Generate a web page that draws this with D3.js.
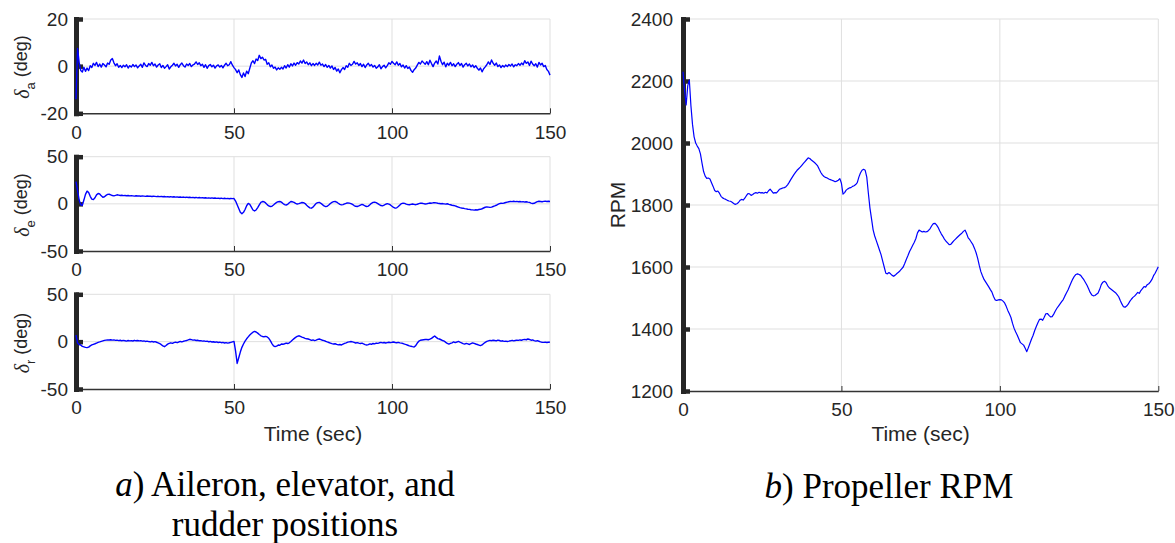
<!DOCTYPE html>
<html>
<head>
<meta charset="utf-8">
<script src="https://cdn.jsdelivr.net/npm/d3@7"></script>
<style>
  html, body { margin: 0; padding: 0; background: #ffffff; }
  svg { display: block; }
  .tick text { font-family: "Liberation Sans", Arial, Helvetica, sans-serif; }
</style>
</head>
<body>
<svg id="fig" width="1175" height="543"></svg>
<script>
// Sampling interval of every logged channel (seconds)
const timeStep = 0.5;

// Aileron deflection, deg
const aileronDeg = [
  -14, 7.5, 1.5, -1.8, -2.5, -0.5, -2.2, -0.8, -1.9, 0.2, -0.6,
  1.2, 0.3, 1.6, -0.2, 0.9, -0.4, 1.1, 0.5, -0.3, 1.3,
  0.8, 2.6, 3.2, 1.4, 0.2, 1.0, -0.5, 0.3, -0.6, 0.4,
  -0.3, 0.6, -0.8, 0.2, -0.4, 0.7, -0.2, 0.5, -0.7, 0.1,
  0.8, -0.5, 1.4, 0.3, -0.2, 1.1, 0.4, 1.6, 0.2, 0.9,
  -0.4, 0.5, 1.0, -0.6, 0.3, -0.9, -0.2, 0.6, -1.2, -0.3,
  0.4, 1.2, 0.1, 0.8, -0.5, 0.6, 1.3, 0.2, -0.4, 0.9,
  0.3, 1.1, -0.2, 0.5, 0.9, 1.8, 0.7, 1.4, 0.2, 0.8,
  -0.5, 0.6, -0.9, 0.2, 0.7, -0.3, 0.4, -0.8, 0.1, 0.5,
  -0.4, 0.3, -0.7, 0.4, 1.2, 0.2, 0.6, 1.9, 0.4, -0.6,
  -1.5, -2.8, -1.6, -3.6, -4.8, -2.9, -4.4, -2.1, -3.2, -0.9,
  1.4, 2.3, 1.1, 3.0, 2.4, 4.6, 3.2, 3.8, 2.6, 2.9,
  0.8, 1.4, -0.3, 0.5, -0.9, -0.4, -1.6, -0.7, -1.3, -0.5,
  -1.2, 0.2, -0.8, 0.6, -0.4, 1.0, 0.1, 1.3, 0.4, 1.5,
  0.9, 2.2, 1.3, 2.6, 1.1, 1.8, 0.6, 1.4, 0.2, 1.1,
  0.3, 1.2, 0.5, 1.7, 0.4, 0.9, -0.2, 0.7, -0.5, 0.3,
  -0.8, 0.1, -1.4, -0.6, -2.1, -1.2, -2.8, -1.5, -0.6, -1.4,
  0.2, -0.5, 1.2, 0.3, 0.8, 2.0, 0.9, 1.4, 0.3, 1.1,
  -0.2, 0.8, -0.6, 0.5, 1.2, 0.1, 0.7, -0.4, 0.3, -0.9,
  -0.3, 0.6, -1.1, -0.2, 0.4, -0.7, 0.2, 1.4, 0.8, 2.0,
  1.2, 0.6, 1.8, 0.4, 1.1, -0.3, 0.5, -0.8, 0.2, -1.0,
  -0.4, -1.8, -2.6, -1.5, -0.8, 0.4, 1.6, 0.9, 2.2, 1.5,
  0.8, 1.9, 0.6, 2.5, 1.1, -0.2, 1.3, 2.2, 0.9, 4.3,
  2.1, 0.6, 1.7, -0.3, 1.2, 0.4, 1.6, 0.2, 1.0, -0.2,
  0.8, 1.5, 0.3, 1.1, -0.4, 0.6, 1.2, 0.1, 0.9, -0.3,
  0.5, -0.6, 0.2, -0.9, -1.7, -0.8, -2.4, -1.1, -0.3, 0.6,
  1.8, 0.7, 2.6, 1.2, 0.4, 1.3, -0.2, 0.5, -0.6, 0.3,
  -0.4, 0.5, -0.2, 0.7, 0.1, 0.9, -0.3, 0.6, 0.2, 1.1,
  0.4, 1.3, 0.6, 2.3, 1.2, 1.8, 0.3, 2.1, 0.9, 0.2,
  1.0, -0.4, 1.6, 0.5, 1.2, -0.2, 0.3, -1.4, -2.2, -3.8
];

// Elevator deflection, deg
const elevatorDeg = [
  23.5, 14, 4, -1, -1.5, 4, 10, 13.5, 12, 8, 5,
  4.5, 6.5, 9.5, 11, 10.5, 8.5, 7, 7.5, 9, 10,
  10.2, 9.5, 8.8, 8.5, 9, 9.6, 9.3, 8.9, 9.1, 8.7,
  8.9, 8.6, 8.8, 8.4, 8.7, 8.5, 8.2, 8.6, 8.3, 8.5,
  8.1, 8.4, 8.2, 7.9, 8.3, 8.0, 8.2, 7.8, 8.1, 7.9,
  7.7, 8.0, 7.6, 7.9, 7.5, 7.8, 7.4, 7.7, 7.3, 7.6,
  7.2, 7.5, 7.1, 7.4, 7.0, 7.3, 6.9, 7.2, 6.8, 7.1,
  6.7, 7.0, 6.6, 6.9, 6.5, 6.8, 6.4, 6.7, 6.3, 6.6,
  6.2, 6.5, 6.1, 6.4, 6.0, 6.3, 5.9, 6.2, 5.8, 6.1,
  5.7, 6.0, 5.6, 5.9, 5.5, 5.8, 5.4, 5.7, 5.5, 5.6,
  3, -1, -5, -9, -10.5, -9, -6, -2, 0.5, -0.5,
  -3.5, -6.5, -7.5, -6.5, -4, -1, 1.5, 2.5, 2.3, 1,
  -0.8, -2.2, -2.8, -2.5, -1.2, 0.3, 1.5, 2.3, 2.5, 1.8,
  0.4, -0.8, -1.2, -0.5, 1.2, 2.5, 2.2, 1.5, 0.5, -0.2,
  0.2, 0.8, 1.4, 1.2, 0.3, -1.5, -3, -4.2, -4.6, -3.5,
  -1.5, 0.5, 1.3, 1.5, 0.6, -0.8, -2.2, -2.9, -2.6, -1.2,
  0.4, 1.6, 2.4, 2.5, 1.8, 0.6, -0.5, -1.1, -0.8, 0,
  0.6, 1, 0.8, 0.3, -0.6, -1.8, -2.6, -2.8, -2.2, -1.3,
  -0.6, -1.2, -2.3, -2.8, -2.4, -1, 0.6, 1.5, 1.8, 1.3,
  0.3, -0.8, -1.8, -2.1, -1.4, -0.4, 0.2, -0.3, -1.2, -2.5,
  -3.8, -4.6, -4.2, -2.8, -1.2, 0.3, 0.8, 0.5, -0.3, -0.8,
  -1.0, -0.6, -0.2, -0.5, -0.9, -0.4, 0.2, 0.7, 0.6, 0.2,
  -0.2, 0.1, 0.5, 0.9, 0.7, 1.1, 1.3, 1.0, 0.6, 0.4,
  0.1, 0.3, 0.0, -0.3, 0.1, -0.5, -1.0, -1.5, -1.8, -2.1,
  -2.8, -3.4, -4.0, -4.4, -4.6, -5.0, -5.3, -5.7, -5.9, -6.2,
  -6.4, -6.6, -6.3, -6.5, -6.0, -5.8, -5.2, -4.4, -3.6, -3.2,
  -3.5, -3.8, -3.4, -2.8, -2.2, -1.5, -0.6, 0.2, 0.6, 0.5,
  0.9, 1.4, 1.8, 2.2, 2.6, 2.4, 2.7, 2.3, 2.6, 2.2,
  2.5, 2.1, 2.4, 1.9, 2.2, 1.8, 1.5, 0.8, 0.4, 0.6,
  1.5, 2.4, 2.8, 2.5, 2.2, 2.6, 2.9, 2.5, 2.7, 2.5
];

// Rudder deflection, deg
const rudderDeg = [
  7, -1.5, -3, -3.5, -5, -5.5, -6, -6.3, -5.8, -4.5, -3.5,
  -2.8, -2.2, -1.5, -0.8, -0.3, 0.3, 0.8, 1.3, 1.6, 1.9,
  1.7, 2.0, 1.6, 1.8, 1.3, 1.6, 1.1, 1.5, 0.9, 1.3,
  1.0, 0.6, 1.2, 0.8, 1.1, 0.7, 1.4, 0.9, 1.2, 0.8,
  1.1, 0.5, 0.8, 0.2, 0.6, 0.1, -0.3, 0.2, -0.4, 0.0,
  -0.6, -1.2, -2.0, -3.2, -4.5, -5.3, -4.1, -2.6, -1.8, -1.2,
  -1.8, -1.0, -0.5, -1.1, -0.4, 0.2, -0.3, 0.4, 0.8, 1.2,
  1.8, 2.5, 2.1, 1.6, 1.8, 1.2, 1.5, 0.9, 1.1, 0.6,
  0.8, 0.3, 0.5, -0.1, 0.2, -0.4, -0.1, -0.6, -0.3, -0.9,
  -0.5, -1.1, -0.8, -1.4, -1.0, -1.6, -1.2, -0.7, -0.2, 0.3,
  -10, -23, -17, -11, -6, -2.5, 0.5, 3, 5, 7,
  8.5, 10, 10.8, 10.2, 9, 7.5, 6.2, 5.5, 5.2, 5.6,
  5, 3.5, 1, -2, -4.5, -5.3, -4.8, -3.5, -3.8, -2.5,
  -2.8, -2.2, -1.5, -2.0, -1.2, 0.2, 1.8, 3.2, 4.5, 5.5,
  6.2, 5.6, 4.8, 4.2, 3.5, 3.0, 2.8, 2.2, 1.4, 1.8,
  1.1, 1.6, 2.4, 2.8, 2.2, 1.5, 1.0, 0.4, -0.3, -0.9,
  -1.5, -2.1, -2.5, -2.2, -2.9, -3.4, -3.0, -3.5, -2.6, -1.8,
  -1.2, -0.5, -0.2, 0.1, -0.3, -0.8, -1.4, -1.0, -1.6, -2.0,
  -1.6, -2.4, -3.1, -3.5, -3.2, -2.4, -2.8, -1.9, -2.3, -1.5,
  -1.8, -1.2, -0.8, -1.3, -0.9, -1.4, -1.0, -0.6, -1.1, -0.7,
  -0.4, -0.9, -1.2, -0.8, -1.3, -1.6, -2.0, -2.6, -3.1, -3.8,
  -4.5, -4.9, -5.3, -5.6, -4.2, -1.5, 0.5, 1.5, 1.8, 2.0,
  2.2, 2.3, 2.0, 2.6, 3.5, 4.8, 6.0, 4.5, 3.2, 2.8,
  2.0, 1.2, 0.6, -0.8, -1.9, -2.6, -1.8, -1.2, -0.3, -1.0,
  -0.4, 0.3, -0.5, -1.2, -2.0, -2.6, -1.9, -2.4, -3.0, -2.2,
  -1.4, -1.8, -2.5, -3.0, -3.6, -4.2, -3.5, -2.0, -0.8, 0.2,
  0.8, 1.3, 1.0, 1.5, 1.2, 0.8, 1.6, 1.2, 0.5, 0.9,
  0.3, 0.6, 0.2, 0.5, 0.9, 1.4, 0.8, 1.2, 1.6, 1.3,
  1.8, 1.5, 2.1, 2.4, 2.0, 2.8, 2.3, 1.5, 1.8, 1.1,
  0.6, 1.0, 0.4, -0.2, -0.6, -0.8, -0.5, -0.9, -0.6, -0.5
];

// Propeller speed, RPM
const propRpm = [
  2230, 2170, 2123, 2185, 2203, 2120, 2060, 2020, 2000, 1990, 1982,
  1965, 1935, 1908, 1893, 1886, 1887, 1884, 1872, 1860, 1847,
  1843, 1845, 1838, 1828, 1823, 1820, 1818, 1815, 1813, 1812,
  1809, 1805, 1802, 1804, 1808, 1815, 1818, 1816, 1822, 1830,
  1837, 1836, 1831, 1834, 1838, 1840, 1838, 1841, 1839, 1840,
  1838, 1841, 1839, 1846, 1851, 1845, 1838, 1840, 1839, 1845,
  1851, 1853, 1855, 1856, 1859, 1865, 1873, 1882, 1890, 1898,
  1905, 1912, 1917, 1922, 1928, 1934, 1940, 1946, 1952, 1950,
  1945, 1941, 1937, 1932, 1926, 1915, 1905, 1897, 1892, 1889,
  1887, 1884, 1882, 1880, 1878, 1875, 1877, 1880, 1885, 1870,
  1835, 1840, 1848, 1852, 1855, 1856, 1860, 1862, 1866, 1872,
  1890, 1903, 1912, 1915, 1912, 1890, 1838, 1790, 1755, 1720,
  1700, 1685, 1670, 1655, 1640, 1620, 1600, 1580, 1578, 1582,
  1578, 1573, 1570, 1574, 1579, 1583, 1588, 1594, 1600, 1612,
  1625, 1637, 1650, 1660, 1670, 1680, 1692, 1710, 1719, 1716,
  1713, 1715, 1713, 1714, 1718, 1724, 1733, 1740, 1741, 1736,
  1728, 1717, 1707, 1699, 1690, 1683, 1678, 1672, 1673, 1679,
  1685, 1690, 1695, 1700, 1705, 1709, 1715, 1719, 1708, 1694,
  1688, 1680, 1672, 1660, 1646, 1628, 1605, 1585, 1572, 1560,
  1552, 1544, 1536, 1527, 1519, 1505, 1494, 1492, 1494, 1495,
  1494, 1490, 1484, 1473, 1460, 1449, 1437, 1418, 1402, 1390,
  1380, 1368, 1356, 1352, 1348, 1338, 1327, 1340, 1354, 1368,
  1380, 1395, 1408, 1420, 1431, 1432, 1428, 1438, 1449, 1450,
  1444, 1439, 1440, 1448, 1458, 1467, 1474, 1481, 1488, 1495,
  1506, 1516, 1526, 1538, 1550, 1561, 1570, 1576, 1578, 1576,
  1573, 1566, 1559, 1550, 1541, 1530, 1518, 1510, 1507, 1508,
  1512, 1516, 1528, 1543, 1551, 1554, 1550, 1540, 1533, 1529,
  1525, 1521, 1517, 1511, 1504, 1492, 1481, 1472, 1470, 1474,
  1480, 1489, 1496, 1502, 1506, 1512, 1518, 1515, 1524, 1530,
  1537, 1535, 1543, 1546, 1552, 1560, 1572, 1580, 1590, 1601
];

// Axis ticks
const timeTicks = [0, 50, 100, 150];
const aileronTicks = [-20, 0, 20];
const surfaceTicks = [-50, 0, 50];
const rpmTicks = [1200, 1400, 1600, 1800, 2000, 2200, 2400];

// Captions
const captionA = ["a", ") Aileron, elevator, and", "rudder positions"];
const captionB = ["b", ") Propeller RPM"];

const TXT = "#262626";
const GRID = "#dfdfdf";
const SANS = '"Liberation Sans", Arial, Helvetica, sans-serif';
const SERIF = '"Liberation Serif", "Times New Roman", Times, serif';
const plain = d => String(d);   // plain integers, ASCII minus, no grouping

const svg = d3.select("#fig");
svg.append("rect").attr("width", 1175).attr("height", 543).attr("fill", "#fff");

function drawPanel(cfg) {
  const g = svg.append("g").attr("transform", `translate(${cfg.left},${cfg.top})`);
  const x = d3.scaleLinear().domain([0, 150]).range([0, cfg.width]);
  const y = d3.scaleLinear().domain([cfg.ticks[0], cfg.ticks[cfg.ticks.length - 1]]).range([cfg.height, 0]);

  // grid
  g.append("g").selectAll("line").data(timeTicks.filter(t => t > 0)).join("line")
    .attr("x1", d => x(d)).attr("x2", d => x(d))
    .attr("y1", 0).attr("y2", cfg.height)
    .attr("stroke", GRID).attr("stroke-width", 1);
  g.append("g").selectAll("line").data(cfg.ticks.slice(1)).join("line")
    .attr("x1", 0).attr("x2", cfg.width)
    .attr("y1", d => y(d)).attr("y2", d => y(d))
    .attr("stroke", GRID).attr("stroke-width", 1);

  // bottom axis
  const xa = g.append("g").attr("transform", `translate(0,${cfg.height})`)
    .call(d3.axisBottom(x).tickValues(timeTicks).tickFormat(plain)
      .tickSizeInner(-5).tickSizeOuter(0).tickPadding(12));
  xa.select(".domain").attr("stroke", "#333").attr("stroke-width", cfg.axisWidth);
  xa.selectAll(".tick line").attr("stroke", "#333").attr("stroke-width", 1);
  xa.selectAll(".tick text").attr("fill", TXT).style("font-size", cfg.tickFont + "px");

  // left axis: heavy bar with inward stubs
  const ya = g.append("g")
    .call(d3.axisLeft(y).tickValues(cfg.ticks).tickFormat(plain)
      .tickSizeInner(-7).tickSizeOuter(0).tickPadding(cfg.yPad));
  ya.select(".domain").attr("stroke", TXT).attr("stroke-width", 5).attr("stroke-linecap", "square");
  ya.selectAll(".tick line").attr("stroke", TXT).attr("stroke-width", 4.5);
  ya.selectAll(".tick text").attr("fill", TXT).style("font-size", cfg.tickFont + "px");

  // signal, drawn over the axes
  const line = d3.line()
    .x((d, i) => x(i * timeStep))
    .y(d => y(d));
  g.append("path").datum(cfg.values)
    .attr("d", line)
    .attr("fill", "none")
    .attr("stroke", "#0000ff")
    .attr("stroke-width", cfg.lineWidth)
    .attr("stroke-linejoin", "round");

  return { g, x, y };
}

function surfaceLabel(cx, cy, sub) {
  const t = svg.append("text")
    .attr("transform", `translate(${cx},${cy}) rotate(-90)`)
    .attr("text-anchor", "middle")
    .attr("fill", TXT)
    .style("font-family", SANS)
    .style("font-size", "18px");
  t.append("tspan").text("δ").style("font-family", SERIF).style("font-style", "italic").style("font-size", "20px");
  t.append("tspan").text(sub).attr("dy", "0.45em").style("font-size", "13px");
  t.append("tspan").text(" (deg)").attr("dy", "-0.45em");
}

const leftX = 76, leftW = 474, panelH = 94.3;

drawPanel({ left: leftX, top: 19, width: leftW, height: panelH, ticks: aileronTicks,
  values: aileronDeg, lineWidth: 1.4, axisWidth: 1.5, tickFont: 19, yPad: 8 });
drawPanel({ left: leftX, top: 156.7, width: leftW, height: panelH, ticks: surfaceTicks,
  values: elevatorDeg, lineWidth: 1.4, axisWidth: 1.5, tickFont: 19, yPad: 8 });
drawPanel({ left: leftX, top: 294.3, width: leftW, height: panelH + 0.4, ticks: surfaceTicks,
  values: rudderDeg, lineWidth: 1.4, axisWidth: 1.5, tickFont: 19, yPad: 8 });

drawPanel({ left: 683, top: 19, width: 475.3, height: 372, ticks: rpmTicks,
  values: propRpm, lineWidth: 1.2, axisWidth: 1.3, tickFont: 19, yPad: 10 });

surfaceLabel(29, 67, "a");
surfaceLabel(29, 205, "e");
surfaceLabel(29, 343, "r");

svg.append("text")
  .attr("transform", "translate(625,205) rotate(-90)")
  .attr("text-anchor", "middle").attr("fill", TXT)
  .style("font-family", SANS).style("font-size", "21px")
  .text("RPM");

[313, 920.6].forEach(cx => {
  svg.append("text").attr("x", cx).attr("y", 441)
    .attr("text-anchor", "middle").attr("fill", TXT)
    .style("font-family", SANS).style("font-size", "21px")
    .text("Time (sec)");
});

// figure captions
function caption(cx, y, letter, rest) {
  const t = svg.append("text").attr("x", cx).attr("y", y)
    .attr("text-anchor", "middle").attr("fill", "#000")
    .style("font-family", SERIF).style("font-size", "35px");
  t.append("tspan").text(letter).style("font-style", "italic");
  t.append("tspan").text(rest);
  return t;
}
caption(285, 496, captionA[0], captionA[1]);
svg.append("text").attr("x", 285).attr("y", 536)
  .attr("text-anchor", "middle").attr("fill", "#000")
  .style("font-family", SERIF).style("font-size", "35px")
  .text(captionA[2]);
caption(889, 498, captionB[0], captionB[1]);
</script>
</body>
</html>
